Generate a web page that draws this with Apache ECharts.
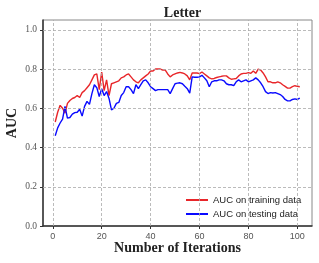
<!DOCTYPE html>
<html>
<head>
<meta charset="utf-8">
<script src="https://cdn.jsdelivr.net/npm/echarts@6/dist/echarts.min.js"></script>
<style>html,body{margin:0;padding:0;background:#fff;}#c{width:319px;height:263px;}</style>
</head>
<body>
<div id="c"></div>
<script>
var iterations = [];
for (var k = 1; k <= 101; k++) iterations.push(k);
var trainAUC = [0.53,0.58,0.615,0.60,0.575,0.625,0.64,0.65,0.655,0.665,
0.655,0.68,0.69,0.705,0.72,0.745,0.77,0.775,0.695,0.785,
0.69,0.745,0.665,0.725,0.73,0.735,0.74,0.755,0.76,0.77,
0.775,0.76,0.745,0.735,0.73,0.745,0.755,0.765,0.775,0.79,
0.79,0.80,0.80,0.80,0.795,0.795,0.775,0.76,0.77,0.775,
0.78,0.783,0.78,0.775,0.765,0.745,0.78,0.78,0.78,0.777,
0.785,0.775,0.765,0.755,0.75,0.752,0.757,0.76,0.763,0.765,
0.765,0.755,0.748,0.75,0.752,0.765,0.775,0.778,0.778,0.782,
0.778,0.79,0.778,0.80,0.795,0.78,0.76,0.735,0.735,0.73,
0.73,0.735,0.73,0.72,0.712,0.703,0.703,0.71,0.715,0.712,0.71];
var testAUC = [0.46,0.50,0.525,0.545,0.61,0.55,0.553,0.57,0.578,0.58,
0.595,0.56,0.61,0.635,0.62,0.675,0.72,0.705,0.66,0.70,
0.665,0.685,0.65,0.592,0.60,0.625,0.63,0.665,0.68,0.71,
0.71,0.695,0.675,0.72,0.70,0.72,0.74,0.745,0.73,0.71,
0.70,0.69,0.695,0.695,0.695,0.695,0.695,0.675,0.70,0.725,
0.728,0.73,0.725,0.712,0.70,0.677,0.76,0.758,0.758,0.76,
0.768,0.755,0.74,0.71,0.735,0.74,0.74,0.745,0.745,0.74,
0.725,0.72,0.72,0.715,0.735,0.745,0.735,0.74,0.745,0.735,
0.74,0.745,0.755,0.745,0.73,0.71,0.685,0.675,0.68,0.678,
0.68,0.675,0.67,0.66,0.645,0.638,0.638,0.645,0.648,0.645,0.652];
var xTicks = [0,20,40,60,80,100];
var yTicks = [0,0.2,0.4,0.6,0.8,1.0];

function pairs(ys){ return iterations.map(function(x,i){ return [x, ys[i]]; }); }
var gridMarks = [];
xTicks.forEach(function(v){ gridMarks.push({xAxis: v}); });
yTicks.slice(1).forEach(function(v){ gridMarks.push({yAxis: v}); });

var chart = echarts.init(document.getElementById('c'), null, {renderer:'canvas'});
chart.setOption({
  animation: false,
  backgroundColor: '#fff',
  title: {
    text: 'Letter', left: 177.5, textAlign: 'center', top: 1,
    textStyle: {fontFamily: 'Liberation Serif', fontWeight: 'bold', fontSize: 14, color: '#222'}
  },
  grid: {left: 43, right: 7, top: 20, bottom: 37, show: true, borderColor: '#888', borderWidth: 1,
    containLabel: false, outerBoundsMode: 'none'},
  legend: {
    data: ['AUC on training data','AUC on testing data'],
    orient: 'vertical', left: 181, top: 190,
    itemWidth: 22, itemHeight: 2, itemGap: 4,
    icon: 'rect',
    textStyle: {fontFamily: 'Liberation Sans', fontSize: 9.5, color: '#222'}
  },
  xAxis: {
    type: 'value', min: -4, max: 106,
    name: 'Number of Iterations', nameLocation: 'middle', nameGap: 15, nameMoveOverlap: false,
    nameTextStyle: {fontFamily: 'Liberation Serif', fontWeight: 'bold', fontSize: 14, color: '#222'},
    axisLine: {show: true, onZero: false, lineStyle: {color: '#333', width: 1.5}},
    axisTick: {show: true, length: 3, customValues: xTicks, lineStyle: {color: '#333'}},
    axisLabel: {customValues: xTicks, margin: 6, fontFamily: 'Liberation Sans', fontSize: 9, color: '#555'},
    splitLine: {show: false}
  },
  yAxis: {
    type: 'value', min: 0, max: 1.05,
    name: 'AUC', nameLocation: 'middle', nameGap: 24, nameRotate: 90, nameMoveOverlap: false,
    nameTextStyle: {fontFamily: 'Liberation Serif', fontWeight: 'bold', fontSize: 14, color: '#222'},
    axisLine: {show: true, onZero: false, lineStyle: {color: '#333', width: 1.5}},
    axisTick: {show: true, length: 3, customValues: yTicks, lineStyle: {color: '#333'}},
    axisLabel: {customValues: yTicks, margin: 6, fontFamily: 'Liberation Serif', fontSize: 9.5, color: '#555',
      formatter: function(v){ return v.toFixed(1); }},
    splitLine: {show: false}
  },
  series: [
    {
      name: 'grid', type: 'line', data: [], z: 1, silent: true,
      markLine: {silent: true, symbol: ['none','none'], label: {show: false},
        lineStyle: {type: [3,2], color: '#aaa', width: 0.8}, data: gridMarks}
    },
    {
      name: 'AUC on training data', type: 'line', data: pairs(trainAUC), z: 3,
      showSymbol: false, color: '#e8262a', lineStyle: {width: 1.4, color: '#e8262a'}
    },
    {
      name: 'AUC on testing data', type: 'line', data: pairs(testAUC), z: 3,
      showSymbol: false, color: '#0a0aff', lineStyle: {width: 1.4, color: '#0a0aff'}
    }
  ]
});
</script>
</body>
</html>
